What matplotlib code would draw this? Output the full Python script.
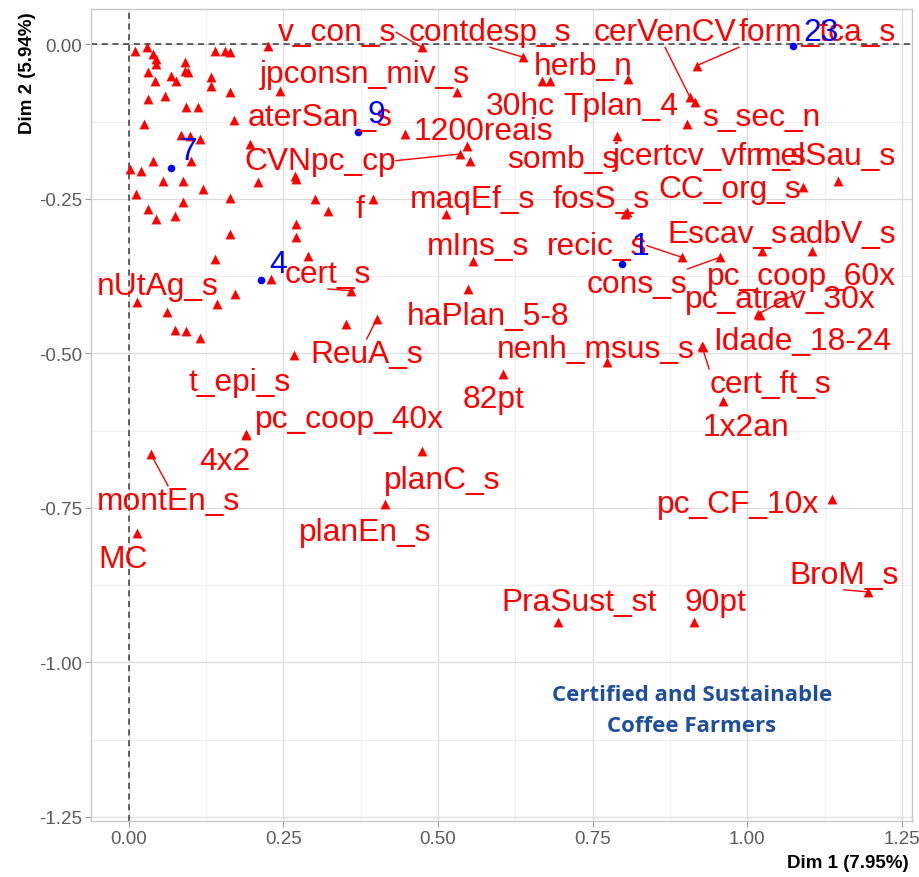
"""MCA biplot (Dim 1 x Dim 2) of coffee farmer categories, ggplot/factoextra look."""

import matplotlib

matplotlib.use("Agg")
import matplotlib.pyplot as plt
from matplotlib import font_manager
import numpy as np


# red triangles that carry a label: point coordinates
var_names = [
    "v_con_s", "contdesp_s", "cerVenCV", "form_tca_s", "jpconsn_miv_s", "herb_n",
    "30hc", "Tplan_4", "aterSan_s", "1200reais", "s_sec_n", "CVNpc_cp", "somb_s",
    "jcertcv_vfm_s", "melSau_s", "CC_org_s", "maqEf_s", "fosS_s", "f", "Escav_s",
    "adbV_s", "mIns_s", "recic_s", "cons_s", "pc_coop_60x", "pc_atrav_30x",
    "Idade_18-24", "cert_ft_s", "1x2an", "nUtAg_s", "cert_s", "haPlan_5-8", "ReuA_s",
    "nenh_msus_s", "t_epi_s", "82pt", "pc_coop_40x", "4x2", "planC_s", "montEn_s",
    "planEn_s", "pc_CF_10x", "MC", "BroM_s", "PraSust_st", "90pt",
]
var_dim1 = [
    0.4737, 0.6380, 0.9075, 0.9184, 0.5303, 0.8078,
    0.6677, 0.9156, 0.1703, 0.4467, 0.9022, 0.5357, 0.5518,
    0.7890, 1.1473, 1.0907, 0.5130, 0.8024, 0.3955, 1.0235,
    1.1043, 0.5572, 0.8941, 0.9560, 1.0180, 1.0200,
    0.9280, 0.9264, 0.9614, 0.0139, 0.3599, 0.5491, 0.4010,
    0.7728, 0.2668, 0.6057, 0.1901, 0.1890, 0.4745, 0.0356,
    0.4139, 1.1366, 0.0139, 1.1953, 0.6946, 0.9145,
]
var_dim2 = [
    -0.0045, -0.0207, -0.0854, -0.0343, -0.0773, -0.0558,
    -0.0586, -0.0935, -0.1217, -0.1448, -0.1286, -0.1772, -0.1880,
    -0.1476, -0.2204, -0.2311, -0.2743, -0.2743, -0.2500, -0.3337,
    -0.3337, -0.3498, -0.3443, -0.3443, -0.4361, -0.4380,
    -0.4890, -0.4874, -0.5764, -0.4172, -0.3984, -0.3956, -0.4442,
    -0.5142, -0.5024, -0.5332, -0.6303, -0.6320, -0.6575, -0.6626,
    -0.7435, -0.7359, -0.7909, -0.8859, -0.9337, -0.9337,
]
# where the repelled label ended up
var_lab1 = [
    0.3367, 0.5842, 0.8671, 1.1137, 0.3820, 0.7345,
    0.6327, 0.7960, 0.3094, 0.5733, 1.0234, 0.3094, 0.7017,
    0.9400, 1.1268, 0.9723, 0.5559, 0.7630, 0.3735, 0.9673,
    1.1539, 0.5652, 0.7567, 0.8219, 1.0881, 1.0530,
    1.0881, 1.0369, 0.9981, 0.0474, 0.3222, 0.5814, 0.3848,
    0.7555, 0.1795, 0.5895, 0.3573, 0.1552, 0.5070, 0.0635,
    0.3827, 0.9856, -0.0092, 1.1562, 0.7281, 0.9492,
]
var_lab2 = [
    0.0197, 0.0197, 0.0197, 0.0197, -0.0477, -0.0343,
    -0.0990, -0.0990, -0.1178, -0.1395, -0.1178, -0.1880, -0.1853,
    -0.1799, -0.1799, -0.2338, -0.2500, -0.2500, -0.2662, -0.3066,
    -0.3066, -0.3256, -0.3256, -0.3876, -0.3741, -0.4118,
    -0.4793, -0.5494, -0.6184, -0.3913, -0.3714, -0.4388, -0.5008,
    -0.4927, -0.5466, -0.5736, -0.6060, -0.6735, -0.7040, -0.7382,
    -0.7893, -0.7432, -0.8325, -0.8581, -0.9029, -0.9029,
]
leader_for = {"v_con_s", "contdesp_s", "cerVenCV", "form_tca_s", "CVNpc_cp", "recic_s",
              "cons_s", "pc_coop_60x", "cert_ft_s", "cert_s", "ReuA_s", "montEn_s", "BroM_s"}

# red triangles whose labels were dropped (overlaps)
other_dim1 = [
    0.0097, 0.0301, 0.0393, 0.0446, 0.0446, 0.1390, 0.1552, 0.1633, 0.2250, 0.0905,
    0.0905, 0.0312, 0.0420, 0.0689, 0.0770, 0.0959, 0.1336, 0.1336, 0.1633, 0.2441,
    0.0312, 0.0582, 0.0931, 0.1120, 0.0247, 0.0850, 0.0986, 0.1148, 0.1956, 0.1012,
    0.0393, 0.0016, 0.0204, 0.0555, 0.0878, 0.1201, 0.2091, 0.2684, 0.2710, 0.0123,
    0.0878, 0.1633, 0.3007, 0.3222, 0.0312, 0.0744, 0.0446, 0.1633, 0.2710, 0.2710,
    0.2899, 0.1390, 0.2296, 0.1714, 0.1433, 0.0624, 0.0753, 0.0931, 0.1148, 0.3518,
    0.6812, 0.5465, 0.8057,
]
other_dim2 = [
    -0.0100, -0.0045, -0.0154, -0.0235, -0.0316, -0.0100, -0.0100, -0.0126, -0.0019, -0.0288,
    -0.0424, -0.0450, -0.0586, -0.0505, -0.0586, -0.0450, -0.0531, -0.0667, -0.0773, -0.0748,
    -0.0882, -0.0828, -0.1016, -0.1016, -0.1286, -0.1464, -0.1476, -0.1529, -0.1610, -0.1880,
    -0.1880, -0.2015, -0.2042, -0.2204, -0.2204, -0.2338, -0.2220, -0.2123, -0.2176, -0.2419,
    -0.2553, -0.2489, -0.2500, -0.2689, -0.2662, -0.2770, -0.2824, -0.3066, -0.2905, -0.3120,
    -0.3417, -0.3471, -0.3795, -0.4037, -0.4199, -0.4333, -0.4615, -0.4631, -0.4754, -0.4523,
    -0.0586, -0.1638, -0.2711,
]

# supplementary individuals (blue)
ind_names = ["7", "9", "4", "1", "23"]
ind_dim1 = [0.0689, 0.3707, 0.2134, 0.7971, 1.0745]
ind_dim2 = [-0.2003, -0.1421, -0.3806, -0.3552, -0.0019]
ind_lab1 = [0.0959, 0.4010, 0.2414, 0.8267, 1.1195]
ind_lab2 = [-0.1718, -0.1125, -0.3552, -0.3256, 0.0197]

ticks = [0.0, 0.25, 0.5, 0.75, 1.0, 1.25]
yticks = [0.0, -0.25, -0.5, -0.75, -1.0, -1.25]
tick_labels_x = ["0.00", "0.25", "0.50", "0.75", "1.00", "1.25"]
tick_labels_y = ["0.00", "-0.25", "-0.50", "-0.75", "-1.00", "-1.25"]
x_title = "Dim 1 (7.95%)"
y_title = "Dim 2 (5.94%)"
note = "Certified and Sustainable\nCoffee Farmers"
note_at = (0.9108, -1.0769)


def pick_font(candidates):
    for name in candidates:
        try:
            font_manager.findfont(font_manager.FontProperties(family=name), fallback_to_default=False)
            return name
        except ValueError:
            continue
    return "DejaVu Sans"


sans = pick_font(["Liberation Sans", "Arial", "DejaVu Sans"])
narrow = pick_font(["Liberation Sans Narrow", "Arial Narrow", "Liberation Sans"])
note_font = pick_font(["Open Sans", "Lato", "Liberation Sans"])
plt.rcParams["axes.unicode_minus"] = False

W, H = 920, 878
fig = plt.figure(figsize=(W / 100, H / 100), dpi=100)
left, right, top, bottom = 91.3, 912.0, 10.0, 821.7
ax = fig.add_axes([left / W, 1 - bottom / H, (right - left) / W, (bottom - top) / H])
ax.set_xlim(-0.0605, 1.2664)
ax.set_ylim(-1.2560, 0.0574)

ax.set_xticks(ticks)
ax.set_xticklabels(tick_labels_x)
ax.set_yticks(yticks)
ax.set_yticklabels(tick_labels_y)
ax.set_xticks(np.arange(0.125, 1.25, 0.25), minor=True)
ax.set_yticks(np.arange(-0.125, -1.25, -0.25), minor=True)
ax.tick_params(which="major", length=4, width=0.8, color="#9a9a9a", labelcolor="#5c5c5c",
               labelsize=13.5, pad=2.5)
ax.tick_params(which="minor", length=0)
for lab in ax.get_xticklabels() + ax.get_yticklabels():
    lab.set_family(sans)
ax.grid(which="major", color="#dcdcdc", lw=0.9)
ax.grid(which="minor", color="#ebebeb", lw=0.6)
ax.set_axisbelow(True)
for sp in ax.spines.values():
    sp.set_color("#c8c8c8")
    sp.set_linewidth(1.0)

ax.axhline(0, color="#3a3a3a", lw=1.1, ls=(0, (4, 3)), zorder=1.5)
ax.axvline(0, color="#3a3a3a", lw=1.1, ls=(0, (4, 3)), zorder=1.5)

ax.scatter(ind_dim1, ind_dim2, marker="o", s=30, color="blue", linewidths=0, zorder=3)
ax.scatter(other_dim1, other_dim2, marker="^", s=50, color="red", linewidths=0, zorder=3)
ax.scatter(var_dim1, var_dim2, marker="^", s=50, color="red", linewidths=0, zorder=3)

label_size = 22.9
texts = []
for name, px, py, lx, ly in zip(var_names, var_dim1, var_dim2, var_lab1, var_lab2):
    t = ax.text(lx, ly, name, color="red", fontsize=label_size, family=sans,
                ha="center", va="center", zorder=4)
    texts.append((t, px, py, name in leader_for))
for name, lx, ly in zip(ind_names, ind_lab1, ind_lab2):
    ax.text(lx, ly, name, color="blue", fontsize=label_size, family=sans,
            ha="center", va="center", zorder=5)

# ggrepel style leader segments: from the point to the box side / corner facing it
fig.canvas.draw()
renderer = fig.canvas.get_renderer()
inv = ax.transData.inverted()
for t, px, py, draw in texts:
    if not draw:
        continue
    bb = t.get_window_extent(renderer)
    p = ax.transData.transform((px, py))
    ex = bb.x0 if p[0] < bb.x0 else (bb.x1 if p[0] > bb.x1 else (bb.x0 + bb.x1) / 2)
    ey = bb.y0 if p[1] < bb.y0 else (bb.y1 if p[1] > bb.y1 else (bb.y0 + bb.y1) / 2)
    end = inv.transform((ex, ey))
    ax.plot([px, end[0]], [py, end[1]], color="red", lw=1.0, zorder=3.5)

ax.text(note_at[0], note_at[1], note, color="#1f4e9b", fontsize=16, fontweight="bold",
        family=note_font, ha="center", va="center", linespacing=1.6, zorder=4)

fig.text(27.5 / W, 1 - 12 / H, y_title, rotation=90, ha="center", va="top",
         fontsize=13.5, fontweight="bold", family=narrow, color="black")
fig.text(909 / W, 1 - 864 / H, x_title, ha="right", va="center",
         fontsize=13.5, fontweight="bold", family=narrow, color="black")

fig.savefig("out.png", dpi=100)
